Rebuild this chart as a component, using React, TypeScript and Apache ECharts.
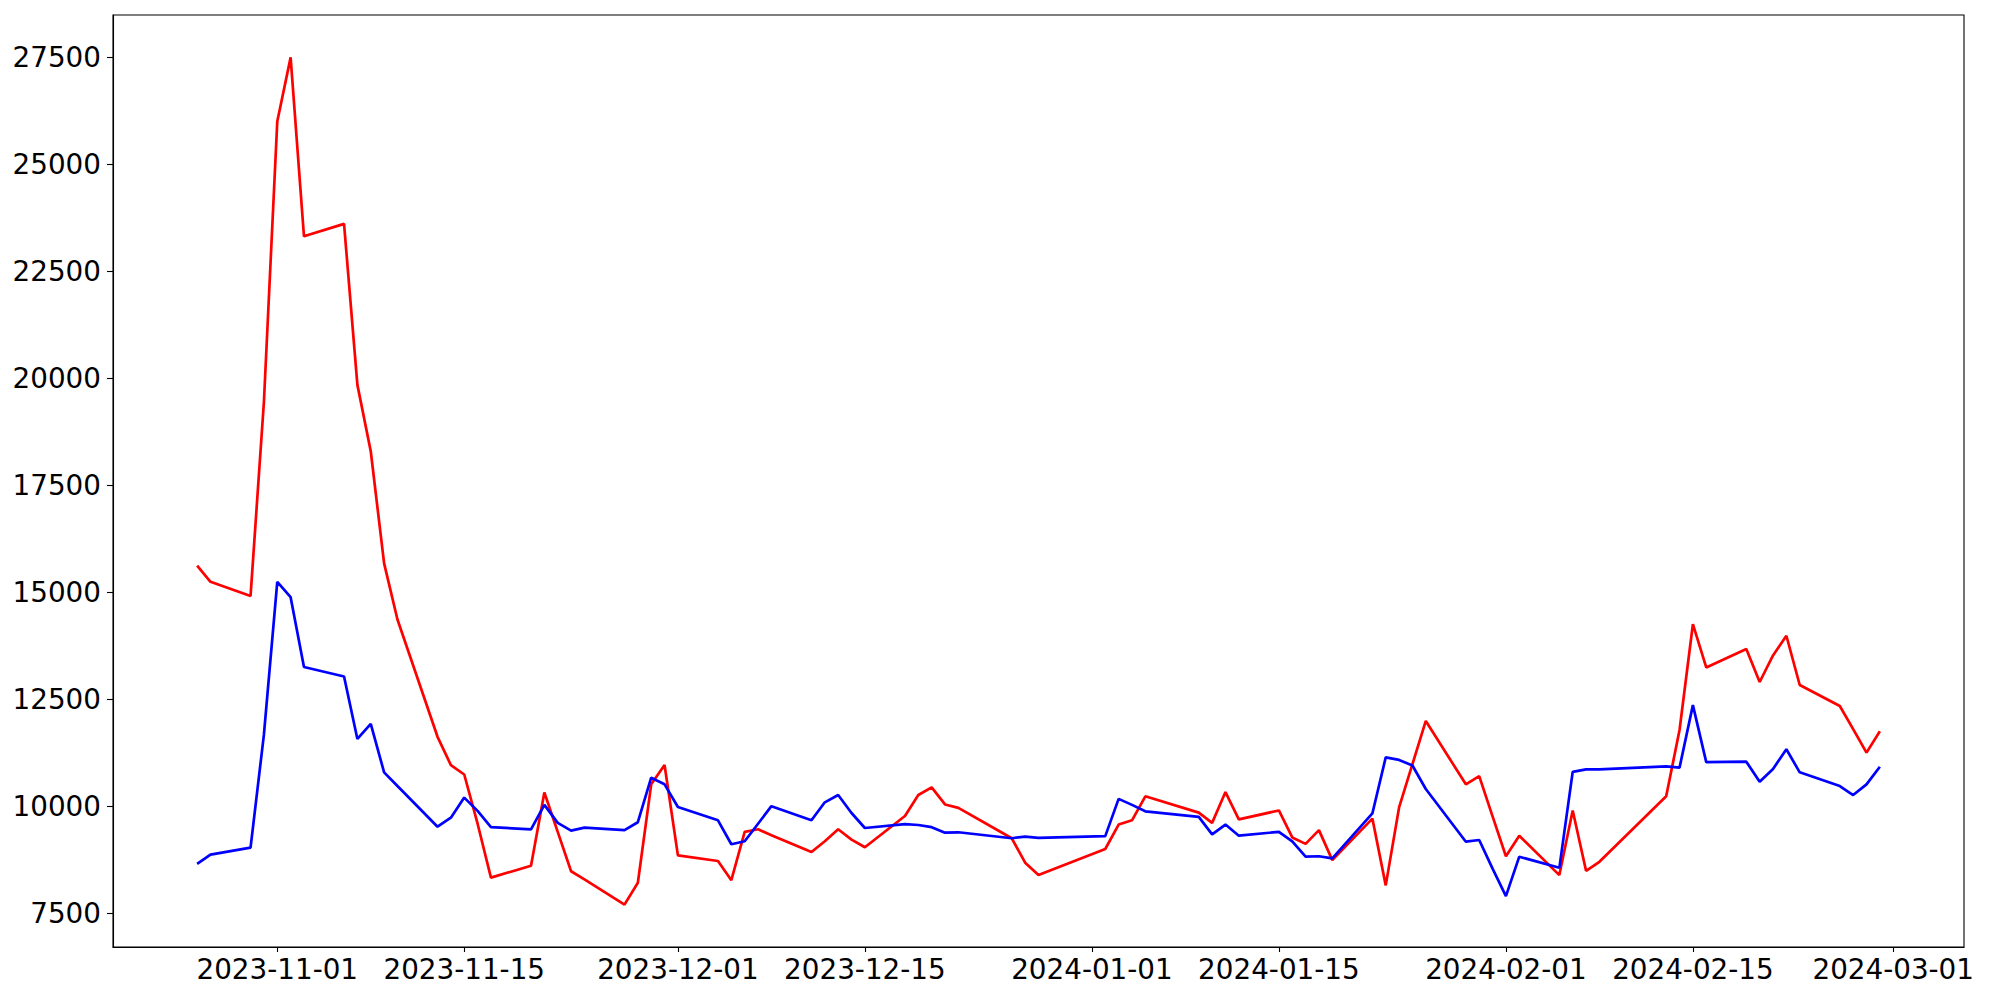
import React, { useEffect, useRef } from "react";
import * as echarts from "echarts";

const dates: string[] = [
  "2023-10-26", "2023-10-27", "2023-10-30", "2023-10-31", "2023-11-01", "2023-11-02", "2023-11-03",
  "2023-11-06", "2023-11-07", "2023-11-08", "2023-11-09", "2023-11-10",
  "2023-11-13", "2023-11-14", "2023-11-15", "2023-11-16", "2023-11-17",
  "2023-11-20", "2023-11-21", "2023-11-22", "2023-11-23", "2023-11-24",
  "2023-11-27", "2023-11-28", "2023-11-29", "2023-11-30", "2023-12-01",
  "2023-12-04", "2023-12-05", "2023-12-06", "2023-12-07", "2023-12-08",
  "2023-12-11", "2023-12-12", "2023-12-13", "2023-12-14", "2023-12-15",
  "2023-12-18", "2023-12-19", "2023-12-20", "2023-12-21", "2023-12-22",
  "2023-12-26", "2023-12-27", "2023-12-28",
  "2024-01-02", "2024-01-03", "2024-01-04", "2024-01-05",
  "2024-01-09", "2024-01-10", "2024-01-11", "2024-01-12",
  "2024-01-15", "2024-01-16", "2024-01-17", "2024-01-18", "2024-01-19",
  "2024-01-22", "2024-01-23", "2024-01-24", "2024-01-25", "2024-01-26",
  "2024-01-29", "2024-01-30", "2024-01-31", "2024-02-01", "2024-02-02",
  "2024-02-05", "2024-02-06", "2024-02-07", "2024-02-08",
  "2024-02-13", "2024-02-14", "2024-02-15", "2024-02-16",
  "2024-02-19", "2024-02-20", "2024-02-21", "2024-02-22", "2024-02-23",
  "2024-02-26", "2024-02-27", "2024-02-28", "2024-02-29",
];

const redValues: number[] = [
  15630, 15250, 14920, 19450, 26000, 27500, 23320,
  23610, 19850, 18300, 15680, 14370,
  11630, 10970, 10750, 9600, 8340,
  8620, 10330, 9410, 8490, 8300,
  7710, 8220, 10520, 10970, 8860,
  8730, 8280, 9410, 9470, 9330,
  8940, 9190, 9470, 9230, 9050,
  9780, 10270, 10450, 10050, 9970,
  9260, 8690, 8400,
  9010, 9580, 9680, 10240,
  9860, 9620, 10340, 9700,
  9910, 9280, 9130, 9450, 8750,
  9720, 8160, 9980, 10990, 12000,
  10520, 10710, 9770, 8840, 9320,
  8400, 9910, 8500, 8710,
  10240, 11790, 14260, 13250,
  13680, 12910, 13530, 13990, 12840,
  12350, 11810, 11260, 11760,
];

const blueValues: number[] = [
  8660, 8880, 9040, 11680, 15250, 14890, 13260,
  13040, 11580, 11930, 10800, 10480,
  9530, 9740, 10210, 9900, 9520,
  9470, 10040, 9620, 9440, 9510,
  9450, 9635, 10675, 10520, 9990,
  9680, 9120, 9190, 9600, 10010,
  9680, 10100, 10270, 9850, 9500,
  9590, 9570, 9520, 9390, 9400,
  9260, 9300, 9270,
  9310, 10180, 10040, 9890,
  9760, 9350, 9580, 9320,
  9410, 9190, 8830, 8840, 8790,
  9840, 11150, 11090, 10960, 10410,
  9180, 9220, 8550, 7910, 8830,
  8570, 10810, 10870, 10870,
  10940, 10910, 12370, 11040,
  11050, 10580, 10880, 11340, 10800,
  10480, 10270, 10520, 10930,
];

const xTickDates: string[] = [
  "2023-11-01", "2023-11-15", "2023-12-01", "2023-12-15",
  "2024-01-01", "2024-01-15", "2024-02-01", "2024-02-15", "2024-03-01",
];

const yTickValues: number[] = [7500, 10000, 12500, 15000, 17500, 20000, 22500, 25000, 27500];

const toMs = (s: string): number => {
  const [y, m, d] = s.split("-").map(Number);
  return Date.UTC(y, m - 1, d);
};

const fmtDate = (v: number): string => new Date(v).toISOString().slice(0, 10);

export default function App() {
  const ref = useRef<HTMLDivElement>(null);

  useEffect(() => {
    if (!ref.current) return;
    const chart = echarts.init(ref.current, null, { renderer: "svg" });

    const xs = dates.map(toMs);
    const xMinData = Math.min(...xs);
    const xMaxData = Math.max(...xs);
    const xPad = (xMaxData - xMinData) * 0.05;
    const allY = [...redValues, ...blueValues];
    const yMinData = Math.min(...allY);
    const yMaxData = Math.max(...allY);
    const yPad = (yMaxData - yMinData) * 0.05;

    const font = { fontFamily: "DejaVu Sans", fontSize: 27.8, color: "#000" };
    const xTicks = xTickDates.map(toMs);

    chart.setOption({
      animation: false,
      backgroundColor: "#fff",
      grid: {
        left: 113,
        right: 36,
        top: 15,
        bottom: 53,
        show: true,
        borderColor: "#000",
        borderWidth: 1.1,
        backgroundColor: "transparent",
      },
      xAxis: {
        type: "value",
        min: xMinData - xPad,
        max: xMaxData + xPad,
        axisLine: { show: true, onZero: false, lineStyle: { color: "#000", width: 1.1 } },
        axisTick: { show: true, length: 5, lineStyle: { color: "#000", width: 1.1 }, customValues: xTicks },
        axisLabel: { ...font, margin: 8, customValues: xTicks, formatter: (v: number) => fmtDate(v) },
        splitLine: { show: false },
      },
      yAxis: {
        type: "value",
        min: yMinData - yPad,
        max: yMaxData + yPad,
        axisLine: { show: true, onZero: false, lineStyle: { color: "#000", width: 1.1 } },
        axisTick: { show: true, length: 6, lineStyle: { color: "#000", width: 1.1 }, customValues: yTickValues },
        axisLabel: { ...font, margin: 12, customValues: yTickValues, formatter: (v: number) => String(v) },
        splitLine: { show: false },
      },
      series: [
        {
          name: "red",
          type: "line",
          data: xs.map((x, i) => [x, redValues[i]]),
          showSymbol: false,
          symbol: "none",
          lineStyle: { color: "#ff0000", width: 2.7 },
          itemStyle: { color: "#ff0000" },
          z: 2,
        },
        {
          name: "blue",
          type: "line",
          data: xs.map((x, i) => [x, blueValues[i]]),
          showSymbol: false,
          symbol: "none",
          lineStyle: { color: "#0000ff", width: 2.7 },
          itemStyle: { color: "#0000ff" },
          z: 3,
        },
      ],
    });

    return () => chart.dispose();
  }, []);

  return (
    <div
      ref={ref}
      style={{ position: "fixed", left: 0, top: 0, width: 2000, height: 1000, background: "#fff" }}
    />
  );
}
